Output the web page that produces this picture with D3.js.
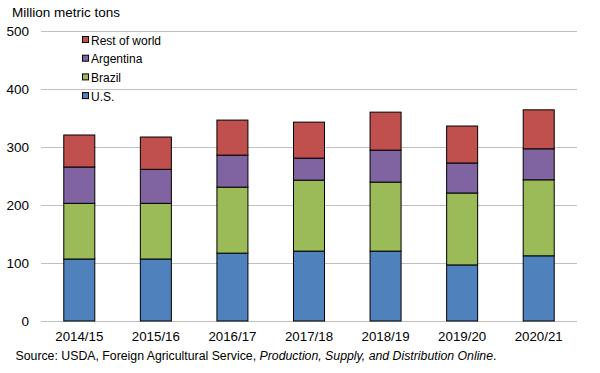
<!DOCTYPE html>
<html>
<head>
<meta charset="utf-8">
<script src="https://cdn.jsdelivr.net/npm/d3@7"></script>
<style>
  body { margin: 0; background: #fff; }
  svg { display: block; font-family: Arial, "Liberation Sans", sans-serif; }
</style>
</head>
<body>
<div id="chart"></div>
<script>
const years = ['2014/15', '2015/16', '2016/17', '2017/18', '2018/19', '2019/20', '2020/21'];
const us = [106.9, 106.9, 117.0, 120.5, 120.5, 96.7, 112.4];
const brazil = [96.0, 96.0, 113.8, 122.4, 119.0, 124.0, 131.0];
const argentina = [62.6, 58.6, 55.2, 37.9, 55.1, 51.7, 53.5];
const restOfWorld = [55.2, 55.7, 60.4, 62.1, 65.5, 63.8, 67.2];
const yTicks = [0, 100, 200, 300, 400, 500];

const seriesNames = ['U.S.', 'Brazil', 'Argentina', 'Rest of world'];
const colors = ['#4f81bd', '#9bbb59', '#8064a2', '#c0504d'];

const width = 600;
const height = 373;

const rows = years.map((y, i) => ({
  year: y,
  'U.S.': us[i],
  'Brazil': brazil[i],
  'Argentina': argentina[i],
  'Rest of world': restOfWorld[i]
}));

const stacked = d3.stack().keys(seriesNames)(rows);

const x = d3.scaleBand()
  .domain(years)
  .range([41, 577])
  .paddingInner(0.595)
  .paddingOuter(0.2975);

const y = d3.scaleLinear()
  .domain([0, 500])
  .range([321, 31]);

const color = d3.scaleOrdinal().domain(seriesNames).range(colors);

const svg = d3.select('#chart').append('svg')
  .attr('width', width)
  .attr('height', height);

// gridlines
svg.append('g')
  .selectAll('line')
  .data(yTicks)
  .enter()
  .append('line')
  .attr('x1', 41)
  .attr('x2', 577)
  .attr('y1', d => Math.round(y(d)) + 0.5)
  .attr('y2', d => Math.round(y(d)) + 0.5)
  .attr('stroke', '#bfbfbf')
  .attr('stroke-width', 1);

// y axis labels
const yAxis = d3.axisLeft(y).tickValues(yTicks).tickSize(0).tickPadding(0);
const gy = svg.append('g')
  .attr('transform', 'translate(29,0)')
  .call(yAxis);
gy.select('.domain').remove();
gy.selectAll('text')
  .attr('font-size', 13.5)
  .attr('font-family', 'Arial, "Liberation Sans", sans-serif')
  .attr('fill', '#000');

// bars
const layer = svg.append('g')
  .selectAll('g')
  .data(stacked)
  .enter()
  .append('g')
  .attr('fill', d => color(d.key));

layer.selectAll('rect')
  .data(d => d)
  .enter()
  .append('rect')
  .attr('x', d => x(d.data.year))
  .attr('width', x.bandwidth())
  .attr('y', d => y(d[1]))
  .attr('height', d => y(d[0]) - y(d[1]))
  .attr('stroke', '#000')
  .attr('stroke-width', 1);

// x axis labels
const xAxis = d3.axisBottom(x).tickSize(0).tickPadding(0);
const gx = svg.append('g')
  .attr('transform', 'translate(0,332)')
  .call(xAxis);
gx.select('.domain').remove();
gx.selectAll('text')
  .attr('font-size', 13.3)
  .attr('font-family', 'Arial, "Liberation Sans", sans-serif')
  .attr('fill', '#000');

// title
svg.append('text')
  .attr('x', 12)
  .attr('y', 17)
  .attr('font-size', 13.5)
  .attr('fill', '#000')
  .text('Million metric tons');

// legend
const legendItems = seriesNames.slice().reverse();
const legend = svg.append('g')
  .selectAll('g')
  .data(legendItems)
  .enter()
  .append('g')
  .attr('transform', (d, i) => `translate(82.5,${40 + i * 18.7})`);

legend.append('rect')
  .attr('x', 0)
  .attr('y', -3.5)
  .attr('width', 6)
  .attr('height', 6)
  .attr('fill', d => color(d))
  .attr('stroke', '#000')
  .attr('stroke-width', 1);

legend.append('text')
  .attr('x', 8.5)
  .attr('y', 4.5)
  .attr('font-size', 12)
  .attr('fill', '#000')
  .text(d => d);

// source
const source = svg.append('text')
  .attr('x', 15.5)
  .attr('y', 360)
  .attr('font-size', 12.3)
  .attr('fill', '#000');
source.append('tspan').text('Source: USDA, Foreign Agricultural Service, ');
source.append('tspan').attr('font-style', 'italic').text('Production, Supply, and Distribution Online');
source.append('tspan').text('.');
</script>
</body>
</html>
